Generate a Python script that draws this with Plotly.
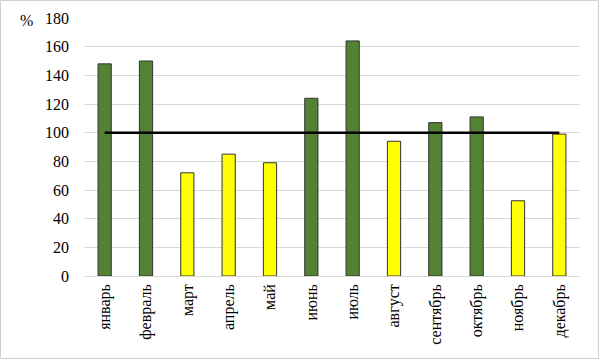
import plotly.graph_objects as go

months = ["январь", "февраль", "март", "апрель", "май", "июнь", "июль",
          "август", "сентябрь", "октябрь", "ноябрь", "декабрь"]
values = [148, 150, 72, 85, 79, 124, 164, 94, 107, 111, 52.5, 99]
baseline = [100] * 12
y_ticks = [0, 20, 40, 60, 80, 100, 120, 140, 160, 180]

GREEN = "#548235"
YELLOW = "#FFFF00"
colors = [GREEN if v >= 100 else YELLOW for v in values]

fig = go.Figure()
fig.add_trace(go.Bar(
    x=months, y=values,
    marker=dict(color=colors, line=dict(color="#333333", width=1)),
    width=0.32,
    showlegend=False,
))
fig.add_trace(go.Scatter(
    x=months, y=baseline, mode="lines",
    line=dict(color="black", width=2.5),
    showlegend=False,
))

L, R, T, B = 84, 19, 18, 84
W, H = 599, 360
pw, ph = W - L - R, H - T - B

FONT = "Times New Roman, Liberation Serif, DejaVu Serif, serif"

fig.update_layout(
    width=W, height=H,
    margin=dict(l=L, r=R, t=T, b=B, autoexpand=False),
    paper_bgcolor="white", plot_bgcolor="white",
    font=dict(family=FONT, size=16, color="black"),
    xaxis=dict(
        tickangle=-90, showgrid=False, showline=False, ticks="",
        ticklabelstandoff=4, automargin=False,
        tickfont=dict(family=FONT, size=16),
    ),
    yaxis=dict(
        range=[0, 180], tickvals=y_ticks, showgrid=True, gridcolor="#d9d9d9",
        gridwidth=1, zeroline=True, zerolinecolor="#d9d9d9", zerolinewidth=1,
        showline=False, ticks="", ticklabelstandoff=14, automargin=False,
        tickfont=dict(family=FONT, size=16),
    ),
    annotations=[dict(
        text="%", xref="paper", yref="paper",
        x=(26 - L) / pw, y=(H - B - 20) / ph, xanchor="center", yanchor="middle",
        showarrow=False, font=dict(family=FONT, size=16),
    )],
    shapes=[dict(
        type="rect", xref="paper", yref="paper",
        x0=(0.5 - L) / pw, x1=(598.5 - L) / pw,
        y0=(H - B - 358.5) / ph, y1=(H - B - 0.5) / ph,
        line=dict(color="#d0d0d0", width=1), layer="below",
    )],
)

fig.write_html("out.html", config={"displayModeBar": False},
               post_script="document.body.style.margin='0';")
